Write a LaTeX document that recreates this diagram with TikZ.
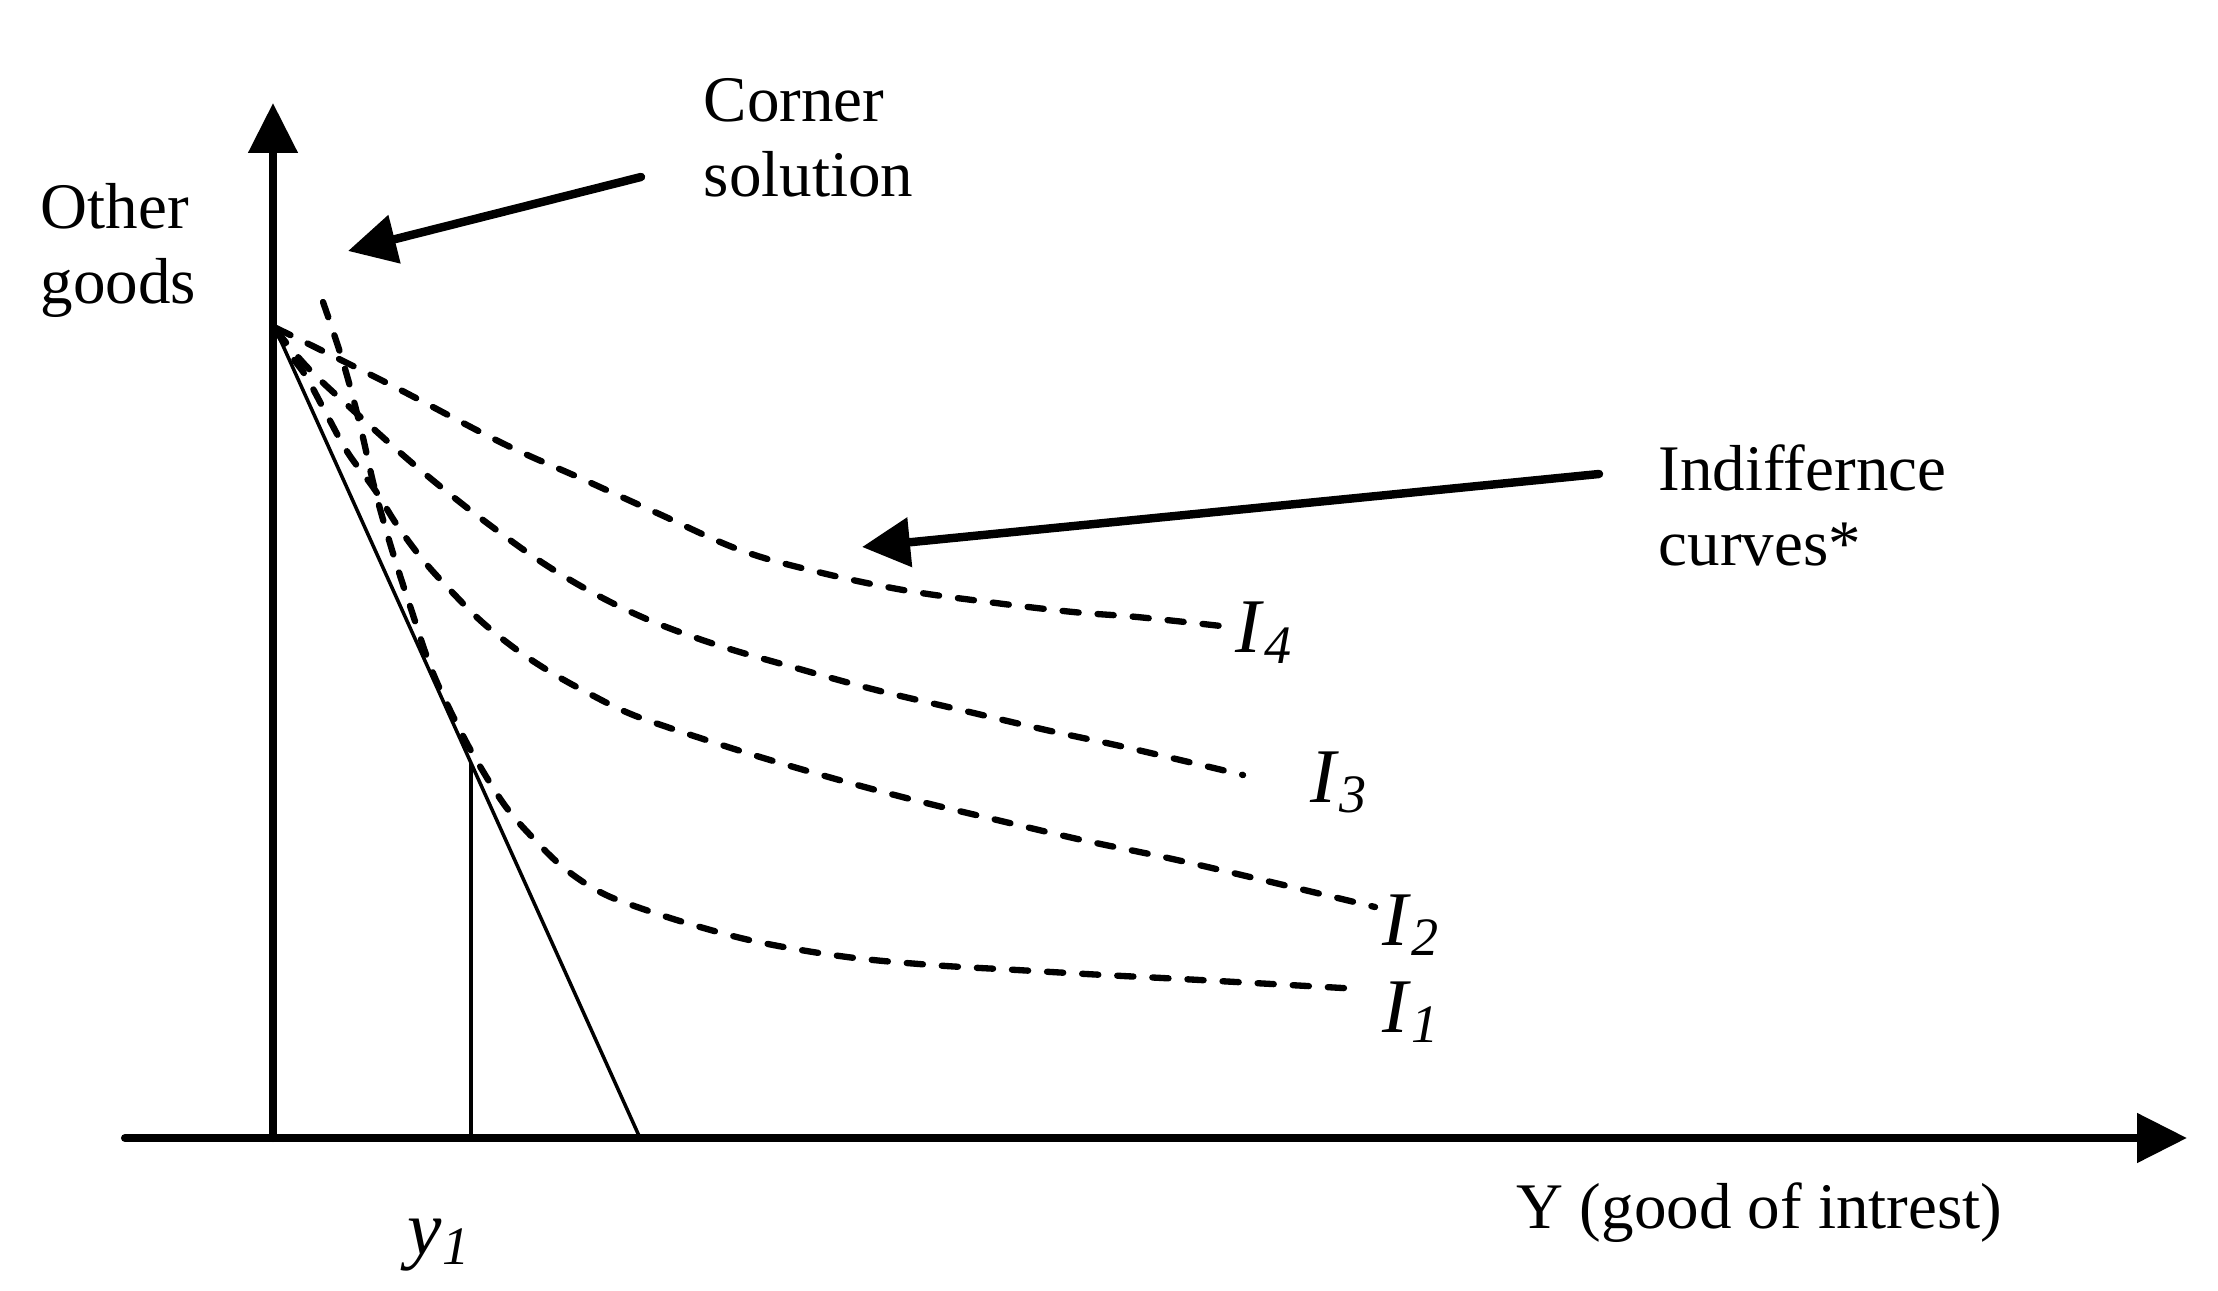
\documentclass[tikz,border=0pt]{standalone}
\usepackage{fontspec}
\setmainfont{Liberation Serif}
\usetikzlibrary{arrows.meta}
\newcommand{\ilab}[1]{\textit{I}\textsubscript{\textit{#1}}}

\begin{document}
\begin{tikzpicture}[
    axis/.style={line width=2.3pt, line cap=round, -{Triangle[length=0.5cm,width=0.48cm]}},
    pointer/.style={line width=2.4pt, line cap=round, -{Triangle[length=0.48cm,width=0.48cm]}},
    indiff/.style={line width=1.8pt, line cap=round, dash pattern=on 4.6pt off 5.4pt},
    budget/.style={line width=1pt},
    txt/.style={font=\fontsize{18.5}{21.6}\selectfont, inner sep=0pt, align=left, anchor=base west},
    ilbl/.style={font=\fontsize{22}{24}\selectfont, inner sep=0pt, anchor=base west}]
    \useasboundingbox (0,0) rectangle (22.18,12.90);

    % axes
    \coordinate (O) at (2.73,1.52);
    \coordinate (ytop) at (2.73,11.87);
    \coordinate (xleft) at (1.25,1.52);
    \coordinate (xtip) at (21.87,1.52);
    \draw[axis] (O) -- (ytop);
    \draw[axis] (xleft) -- (xtip);

    % budget line and y1
    \coordinate (btop) at (2.75,9.62);
    \coordinate (bbot) at (6.40,1.52);
    \coordinate (T) at (4.71,5.27);
    \draw[budget] (btop) -- (bbot);
    \draw[budget] (T) -- (T |- O);

    % indifference curves
    \draw[indiff] plot[smooth, tension=0.6] coordinates {
      (2.76,9.62) (3.87,9.07) (5.02,8.47) (5.80,8.12) (6.57,7.77) (7.40,7.40)
      (8.18,7.18) (9.03,7.00) (9.88,6.88) (10.73,6.78) (11.37,6.73) (12.21,6.64)};
    \draw[indiff] plot[smooth, tension=0.6] coordinates {
      (2.76,9.60) (3.08,9.22) (3.55,8.78) (4.18,8.22) (4.87,7.67) (5.57,7.18)
      (6.33,6.77) (7.11,6.47) (7.96,6.22) (8.76,6.00) (9.61,5.80) (10.46,5.60)
      (11.29,5.42) (12.43,5.15)};
    \draw[indiff] plot[smooth, tension=0.6] coordinates {
      (2.76,9.60) (2.93,9.32) (3.07,9.12) (3.28,8.73) (3.48,8.37) (3.75,8.00)
      (3.97,7.65) (4.23,7.30) (4.52,6.98) (4.82,6.68) (5.17,6.40) (5.52,6.17)
      (5.88,5.97) (6.26,5.78) (6.67,5.63) (7.47,5.37) (8.32,5.12) (9.14,4.90)
      (9.97,4.70) (10.82,4.50) (11.68,4.32) (12.50,4.13) (13.75,3.83)};
    \draw[indiff] plot[smooth, tension=0.6] coordinates {
      (3.23,9.88) (3.43,9.28) (3.60,8.65) (3.75,8.00) (3.92,7.40) (4.12,6.78)
      (4.33,6.17) (4.60,5.60) (4.81,5.22) (5.06,4.83) (5.33,4.52) (5.64,4.22)
      (6.00,3.98) (6.40,3.82) (7.00,3.63) (7.63,3.47) (8.47,3.33) (9.32,3.25)
      (10.17,3.20) (11.04,3.15) (12.00,3.10) (13.60,3.01)};

    % labels (base anchor sits on the last line)
    \node[txt] (other) at (0.40,9.86) {Other\\goods};
    \node[txt] (corner) at (7.03,10.93) {Corner\\solution};
    \node[txt] (indif) at (16.58,7.24) {Indiffernce\\curves*};
    \node[txt] (ygood) at (15.16,0.62) {Y (good of intrest)};
    \node[ilbl] (y1) at (4.07,0.36) {\textit{y}\textsubscript{\textit{1}}};
    \node[ilbl] (i4) at (12.35,6.37) {\ilab{4}};
    \node[ilbl] (i3) at (13.10,4.88) {\ilab{3}};
    \node[ilbl] (i2) at (13.82,3.45) {\ilab{2}};
    \node[ilbl] (i1) at (13.82,2.58) {\ilab{1}};

    % pointers
    \coordinate (cornerfrom) at (6.41,11.13);
    \coordinate (cornerto) at (3.48,10.39);
    \coordinate (indfrom) at (15.99,8.16);
    \coordinate (indto) at (8.62,7.43);
    \draw[pointer] (cornerfrom) -- (cornerto);
    \draw[pointer] (indfrom) -- (indto);
\end{tikzpicture}
\end{document}
